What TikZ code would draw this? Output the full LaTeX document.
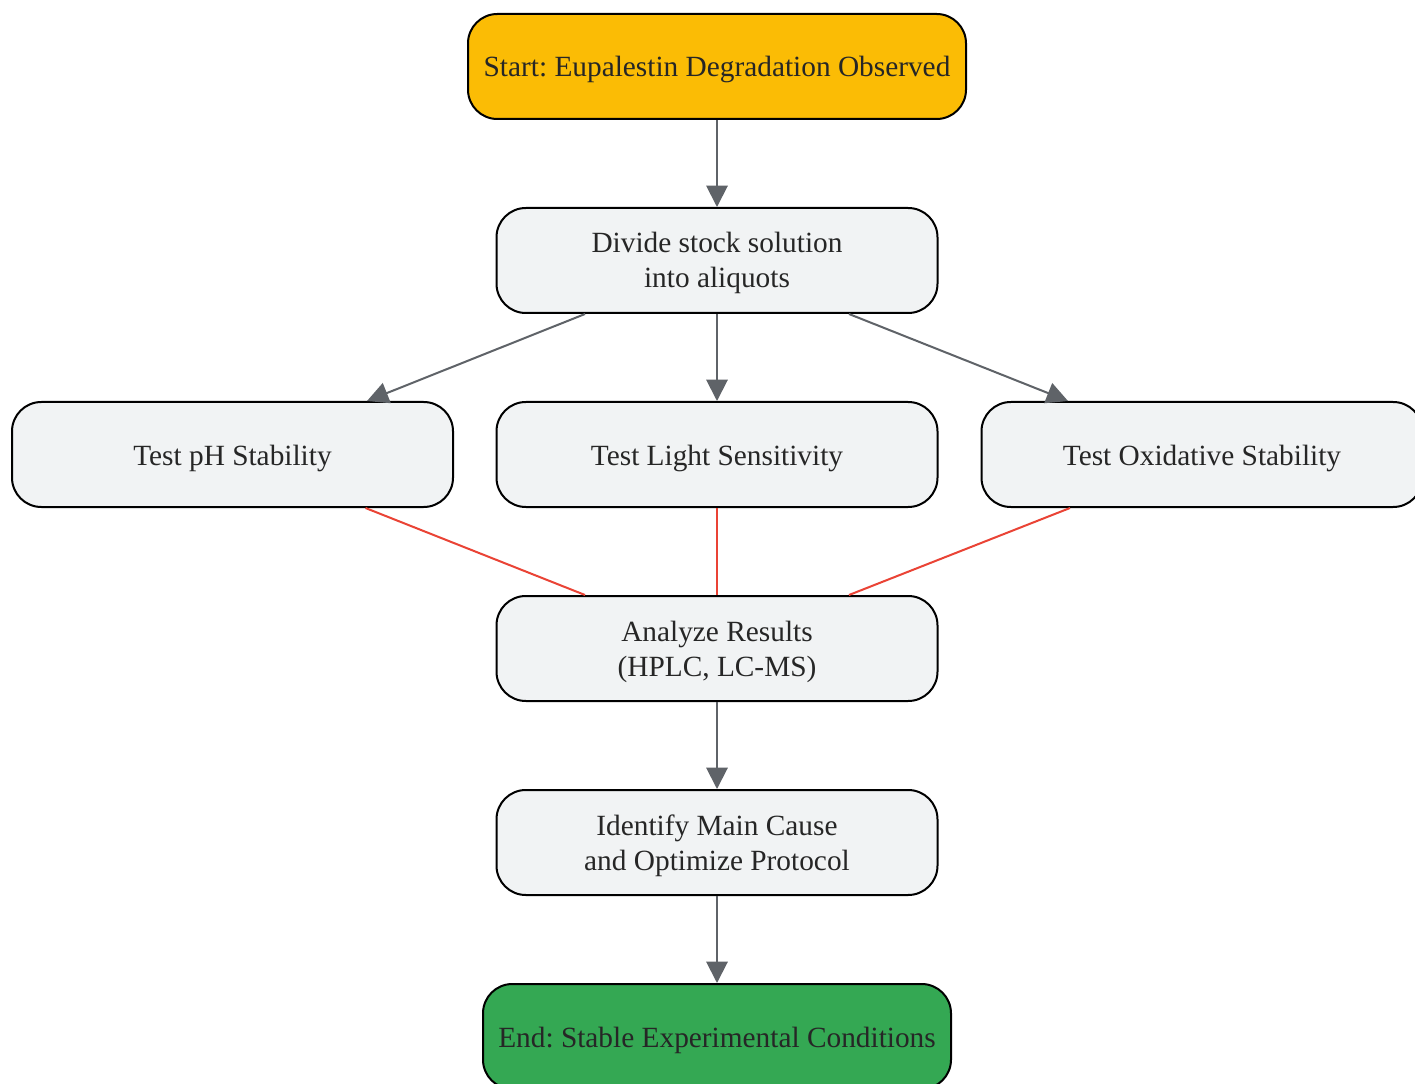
\documentclass[tikz,border=0pt]{standalone}
\usepackage{fontspec}
\setmainfont{Liberation Serif}
\usetikzlibrary{arrows.meta,calc}
\definecolor{boxfill}{HTML}{F1F3F4}
\definecolor{startfill}{HTML}{FBBC05}
\definecolor{endfill}{HTML}{34A853}
\definecolor{arrowgray}{HTML}{5F6368}
\definecolor{redline}{HTML}{EA4335}
\definecolor{txt}{HTML}{262626}
\newcommand{\twolines}[2]{\raisebox{-2.25pt}[\height][\depth]{\begin{tabular}{@{}c@{}}#1\\#2\end{tabular}}}
\tikzset{
  stepbox/.style={draw=black, line width=1.5pt, rounded corners=22pt, fill=boxfill,
    minimum width=330.75pt, minimum height=78.75pt, align=center, text=txt,
    font=\frenchspacing\fontsize{22pt}{26.25pt}\selectfont, inner sep=0pt,
    execute at begin node={\rule{0pt}{20.5pt}}},
  flow/.style={draw=arrowgray, line width=1.5pt, -{Triangle[length=16pt,width=16pt]}},
  redflow/.style={draw=redline, line width=1.5pt},
}
\begin{document}
\begin{tikzpicture}[x=0.75pt,y=-0.75pt]
\useasboundingbox (0,0) rectangle (1415,1084);
\fill[white] (0,0) rectangle (1415,1084);
\node[stepbox, fill=startfill, minimum width=373.5pt] (start) at (717,66.5) {Start: Eupalestin Degradation Observed};
\node[stepbox] (div) at (717,260.5) {\twolines{Divide stock solution}{into aliquots}};
\node[stepbox] (ph) at (232.5,454.5) {Test pH Stability};
\node[stepbox] (light) at (717,454.5) {Test Light Sensitivity};
\node[stepbox] (ox) at (1202,454.5) {Test Oxidative Stability};
\node[stepbox] (an) at (717,648.5) {\twolines{Analyze Results}{(HPLC, LC-MS)}};
\node[stepbox] (id) at (717,842.5) {\twolines{Identify Main Cause}{and Optimize Protocol}};
\node[stepbox, fill=endfill, minimum width=351pt] (end) at (717,1036.5) {End: Stable Experimental Conditions};

\draw[flow] (start.south) -- (div.north);
\draw[flow] ($(div.south)+(-132,0)$) -- ($(ph.north)+(134.5,0)$);
\draw[flow] (div.south) -- (light.north);
\draw[flow] ($(div.south)+(132,0)$) -- ($(ox.north)+(-134,0)$);
\draw[redflow] ($(ph.south)+(133,0)$) -- ($(an.north)+(-132,0)$);
\draw[redflow] (light.south) -- (an.north);
\draw[redflow] ($(ox.south)+(-132,0)$) -- ($(an.north)+(132,0)$);
\draw[flow] (an.south) -- (id.north);
\draw[flow] (id.south) -- (end.north);
\end{tikzpicture}
\end{document}
